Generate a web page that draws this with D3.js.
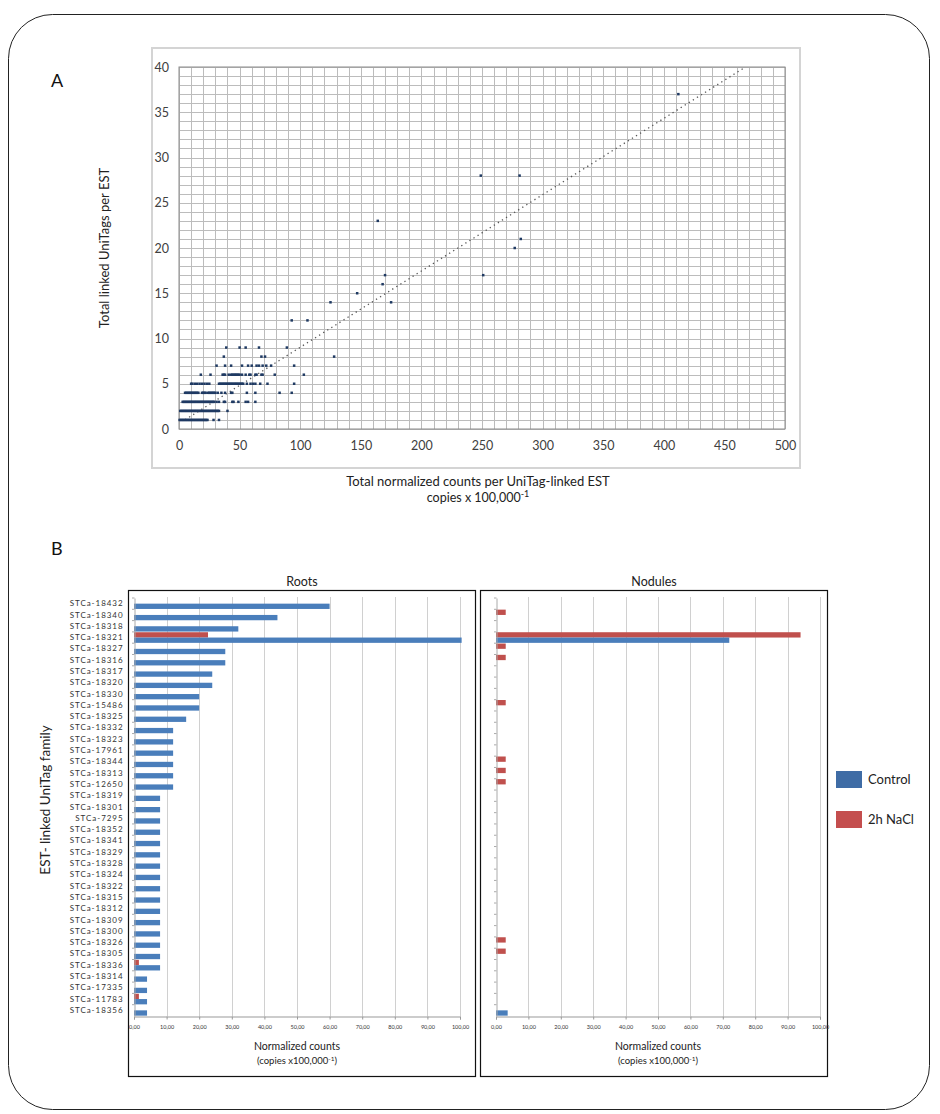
<!DOCTYPE html>
<html><head><meta charset="utf-8">
<script src="https://cdn.jsdelivr.net/npm/d3@7/dist/d3.min.js"></script>
<style>body{margin:0;background:#fff} svg{display:block} text{font-family:Lato,"Open Sans",sans-serif}</style>
</head><body><svg id="c" width="940" height="1114"></svg>
<script>
// ---------- Panel A data ----------
const xsAtY1 = [0.5,1.5,2.5,3.5,4.5,5.5,6.5,7.5,8.5,9.5,10.5,11.5,12.5,13.5,14.5,15.5,16.5,17.5,18.5,19.5,20.5,21.5,22.5,23.5,28.5,33];
const xsAtY2 = [1,2,3,4,5,6,7,8,9,10,11,12,13,14,15,16,17,18,19,20,21,22,23,24,25,26,27,28,29,30,31,32,33,40];
const xsAtY3 = [3,4,5,6,7,8,9,10,11,12,13,14,15,16,17,18,19,20,21,22,23,24,25,26,27,28,29,31,33,37,38,44,45,49,55,57,63];
const xsAtY4 = [5,6,7,8,9,10,11,12,13,14,15,16,19,20,21,22,24,25,26,27,28,29,30,32,35,38,43,44,56,63,83,93];
const xsAtY5 = [10,11,13,15,17,19,21,23,25,33,34,35,36,37,38,39,40,41,42,43,44,45,46,47,48,49,50,51,52,53,56,59,61,63,67,73,95];
const xsAtY6 = [18,26,36,37,38,41,43,44,45,46,47,48,49,50,52,55,58,59,63,64,68,69,79,103];
const xsAtY7 = [31,38,43,52,57,60,64,66,69,72,76,95];
const xsAtY8 = [37,68,71,128];
const xsAtY9 = [39,50,55,66,89];
const upperPoints = [[93,12],[106,12],[125,14],[175,14],[147,15],[168,16],[170,17],[251,17],[277,20],[282,21],[164,23],[249,28],[281,28],[412,37]];
const trendSlope = 0.0843, trendIntercept = 0.6, trendXRange = [5, 467];
const xTicksA = [0,50,100,150,200,250,300,350,400,450,500];
const yTicksA = [0,5,10,15,20,25,30,35,40];

// ---------- Panel B data ----------
const categories = ["STCa-18432","STCa-18340","STCa-18318","STCa-18321","STCa-18327","STCa-18316","STCa-18317","STCa-18320","STCa-18330","STCa-15486","STCa-18325","STCa-18332","STCa-18323","STCa-17961","STCa-18344","STCa-18313","STCa-12650","STCa-18319","STCa-18301","STCa-7295","STCa-18352","STCa-18341","STCa-18329","STCa-18328","STCa-18324","STCa-18322","STCa-18315","STCa-18312","STCa-18309","STCa-18300","STCa-18326","STCa-18305","STCa-18336","STCa-18314","STCa-17335","STCa-11783","STCa-18356"];
const rootsControl = [60,44,32,100.5,28,28,24,24,20,20,16,12,12,12,12,12,12,8,8,8,8,8,8,8,8,8,8,8,8,8,8,8,8,4,4,4,4];
const rootsNaCl    = [0,0,0,22.7,0,0,0,0,0,0,0,0,0,0,0,0,0,0,0,0,0,0,0,0,0,0,0,0,0,0,0,0,1.5,0,0,1.5,0];
const nodulesControl = [0,0,0,72,0,0,0,0,0,0,0,0,0,0,0,0,0,0,0,0,0,0,0,0,0,0,0,0,0,0,0,0,0,0,0,0,3.6];
const nodulesNaCl    = [0,3,0,94,3,3,0,0,0,3,0,0,0,0,3,3,3,0,0,0,0,0,0,0,0,0,0,0,0,0,3,3,0,0,0,0,0];
const seriesNames = ["2h NaCl","Control"];
const xTicksB = [0,10,20,30,40,50,60,70,80,90,100];

const colors = {"Control":"#4A7EBB","2h NaCl":"#C0504D"};
const legendColors = {"Control":"#3F6CA5","2h NaCl":"#C44E4E"};

const svg = d3.select("#c");

// outer rounded frame
svg.append("rect").attr("x",8.5).attr("y",14.5).attr("width",921).attr("height",1095)
  .attr("rx",44).attr("fill","none").attr("stroke","#222").attr("stroke-width",1);

// ---------- Panel A ----------
svg.append("text").attr("x",51).attr("y",87).attr("font-size",18).attr("fill","#111").text("A");
svg.append("rect").attr("x",152).attr("y",48).attr("width",648).attr("height",420)
  .attr("fill","#fff").attr("stroke","#d4d4d4").attr("stroke-width",2);

const xA = d3.scaleLinear().domain([0,500]).range([179,785]);
const yA = d3.scaleLinear().domain([0,40]).range([429,67]);
const gA = svg.append("g");
gA.selectAll("line.h").data(yA.ticks(40)).join("line")
  .attr("x1",xA(0)).attr("x2",xA(500)).attr("y1",d=>Math.round(yA(d))+0.5).attr("y2",d=>Math.round(yA(d))+0.5)
  .attr("stroke","#bcbcbc").attr("stroke-width",1);
gA.selectAll("line.v").data(xA.ticks(50)).join("line")
  .attr("y1",yA(0)).attr("y2",yA(40)).attr("x1",d=>Math.round(xA(d))+0.5).attr("x2",d=>Math.round(xA(d))+0.5)
  .attr("stroke","#bcbcbc").attr("stroke-width",1);
gA.append("rect").attr("x",xA(0)).attr("y",yA(40)).attr("width",xA(500)-xA(0)).attr("height",yA(0)-yA(40))
  .attr("fill","none").attr("stroke","#8c8c8c");

const axB = d3.axisBottom(xA).tickValues(xTicksA).tickSize(0).tickPadding(12);
const gxA = svg.append("g").attr("transform",`translate(0,${yA(0)})`).call(axB);
gxA.select(".domain").remove();
gxA.selectAll("text").attr("font-size",12.5).attr("fill","#404040").attr("font-family","Lato");
const axL = d3.axisLeft(yA).tickValues(yTicksA).tickSize(0).tickPadding(10);
const gyA = svg.append("g").attr("transform",`translate(${xA(0)},0)`).call(axL);
gyA.select(".domain").remove();
gyA.selectAll("text").attr("font-size",12.5).attr("fill","#404040").attr("font-family","Lato");

// trend line
const trendPts = trendXRange.map(x=>[x, trendSlope*x+trendIntercept]);
gA.append("path").attr("d", d3.line().x(d=>xA(d[0])).y(d=>yA(d[1]))(trendPts))
  .attr("fill","none").attr("stroke","#555").attr("stroke-width",1.3).attr("stroke-dasharray","1.3,3.5");

// points
const rows = [[1,xsAtY1],[2,xsAtY2],[3,xsAtY3],[4,xsAtY4],[5,xsAtY5],[6,xsAtY6],[7,xsAtY7],[8,xsAtY8],[9,xsAtY9]];
const pts = [];
rows.forEach(([y,xs])=>xs.forEach(x=>pts.push([x,y])));
upperPoints.forEach(p=>pts.push(p));
gA.selectAll("rect.pt").data(pts).join("rect")
  .attr("x",d=>xA(d[0])-1.25).attr("y",d=>yA(d[1])-1.25).attr("width",2.5).attr("height",2.5)
  .attr("fill","#1F3A63");

svg.append("text").attr("transform","translate(109,248) rotate(-90)").attr("text-anchor","middle")
  .attr("font-size",13).attr("fill","#222").text("Total linked UniTags per EST");
svg.append("text").attr("x",478).attr("y",486).attr("text-anchor","middle").attr("font-size",13).attr("fill","#222")
  .text("Total normalized counts per UniTag-linked EST");
const sub = svg.append("text").attr("x",478).attr("y",502).attr("text-anchor","middle").attr("font-size",12.5).attr("fill","#222");
sub.append("tspan").text("copies x 100,000");
sub.append("tspan").attr("dy",-5).attr("font-size",9).text("-1");

// ---------- Panel B ----------
svg.append("text").attr("x",51).attr("y",555).attr("font-size",18).attr("fill","#111").text("B");

const yB = d3.scaleBand().domain(categories).range([598,1016]).paddingInner(0.06).paddingOuter(0.03);
const ySub = d3.scaleBand().domain(seriesNames).range([0,yB.bandwidth()]);
const commaFmt = d3.formatLocale({decimal:",",thousands:".",grouping:[3],currency:["",""]}).format(".2f");

function panel(x0, x1, boxX, title, control, nacl, showLabels){
  const x = d3.scaleLinear().domain([0,100]).range([x0,x1]);
  svg.append("rect").attr("x",boxX+0.5).attr("y",590.5).attr("width",347).attr("height",486)
    .attr("fill","#fff").attr("stroke","#111").attr("stroke-width",1.2);
  svg.append("text").attr("x",boxX+174).attr("y",586).attr("text-anchor","middle").attr("font-size",12.5).attr("fill","#222").text(title);
  const g = svg.append("g");
  g.selectAll("line.g").data(xTicksB.slice(1)).join("line")
    .attr("x1",d=>Math.round(x(d))+0.5).attr("x2",d=>Math.round(x(d))+0.5).attr("y1",597).attr("y2",1016)
    .attr("stroke","#d0d0d0");
  // bars
  const data = [];
  categories.forEach((c,i)=>{ data.push({c,s:"2h NaCl",v:nacl[i]}); data.push({c,s:"Control",v:control[i]}); });
  g.selectAll("rect.bar").data(data.filter(d=>d.v>0)).join("rect")
    .attr("x",x(0)).attr("y",d=>yB(d.c)+ySub(d.s)).attr("width",d=>x(d.v)-x(0)).attr("height",ySub.bandwidth())
    .attr("fill",d=>colors[d.s]);
  // axes
  const ax = d3.axisBottom(x).tickValues(xTicksB).tickFormat(commaFmt).tickSize(3).tickPadding(6);
  const gx = svg.append("g").attr("transform","translate(0,1016.5)").call(ax);
  gx.select(".domain").attr("stroke","#999");
  gx.selectAll(".tick line").attr("stroke","#999");
  gx.selectAll("text").attr("font-size",5.5).attr("fill","#333").attr("font-family","Lato");
  const ay = d3.axisLeft(yB).tickSize(0).tickPadding(showLabels?11:0);
  const gy = svg.append("g").attr("transform",`translate(${Math.round(x0)+0.5},0)`).call(ay);
  gy.select(".domain").attr("stroke","#aaa");
  if(showLabels){
    gy.selectAll("text").attr("font-size",8).attr("fill","#333").attr("font-family","DejaVu Sans").attr("letter-spacing",0.95);
  } else {
    gy.selectAll("text").remove();
  }
  // category boundary ticks
  svg.append("g").selectAll("line").data(categories).join("line")
    .attr("x1",Math.round(x0)-2).attr("x2",Math.round(x0)+0.5)
    .attr("y1",d=>yB(d)-yB.step()*yB.paddingInner()/2).attr("y2",d=>yB(d)-yB.step()*yB.paddingInner()/2)
    .attr("stroke","#aaa");
  const cx = (x0+x1)/2;
  svg.append("text").attr("x",cx).attr("y",1050).attr("text-anchor","middle").attr("font-size",10.5).attr("fill","#222").text("Normalized counts");
  const t = svg.append("text").attr("x",cx).attr("y",1064).attr("text-anchor","middle").attr("font-size",9.5).attr("fill","#222");
  t.append("tspan").text(showLabels?"(copies  x100,000":"(copies x100,000");
  t.append("tspan").attr("dy",-3).attr("font-size",6.5).text("-1");
  t.append("tspan").attr("dy",3).text(")");
}
panel(134, 460, 128, "Roots", rootsControl, rootsNaCl, true);
panel(496, 820, 480, "Nodules", nodulesControl, nodulesNaCl, false);

svg.append("text").attr("transform","translate(50,800) rotate(-90)").attr("text-anchor","middle")
  .attr("font-size",13.5).attr("fill","#222").text("EST- linked UniTag family");

// legend
const lg = svg.append("g");
seriesNames.slice().reverse().forEach((s,i)=>{
  lg.append("rect").attr("x",836).attr("y",771+i*40).attr("width",26).attr("height",17).attr("fill",legendColors[s]);
  lg.append("text").attr("x",868).attr("y",784+i*40).attr("font-size",13).attr("fill","#222").text(s);
});
</script></body></html>
